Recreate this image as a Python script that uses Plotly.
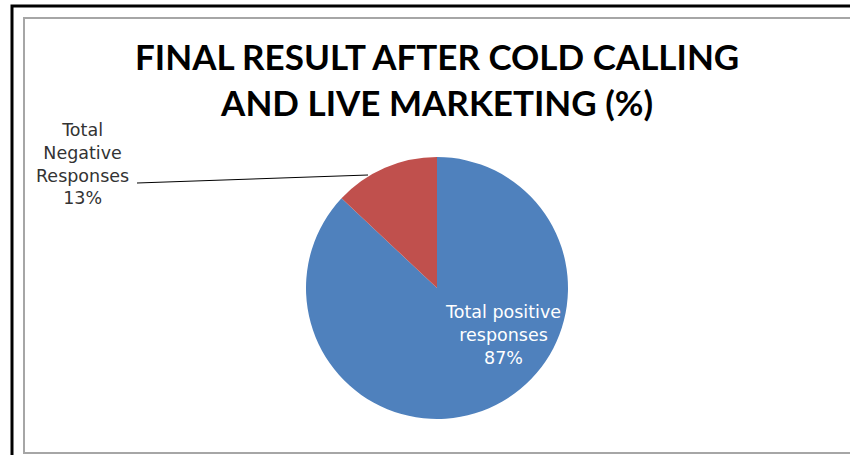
import plotly.graph_objects as go

labels = ["Total positive responses", "Total Negative Responses"]
values = [87, 13]
colors = ["#4F81BD", "#C0504D"]
title_text = "FINAL RESULT AFTER COLD CALLING<br>AND LIVE MARKETING (%)"

W, H = 850, 455

def px(x):
    return x / W

def py(y):
    return 1 - y / H

cx, cy, r = 437, 288, 131

fig = go.Figure(go.Pie(
    labels=labels, values=values, sort=False, direction="clockwise",
    rotation=0, marker=dict(colors=colors, line=dict(width=0)),
    textinfo="none", hoverinfo="label+percent", showlegend=False,
    domain=dict(x=[px(cx - r), px(cx + r)], y=[py(cy + r), py(cy - r)]),
))

fig.update_layout(
    width=W, height=H, margin=dict(l=0, r=0, t=0, b=0),
    paper_bgcolor="white", plot_bgcolor="white",
    font=dict(family="Lato", color="#333333"),
)

# Borders
fig.add_shape(type="rect", xref="paper", yref="paper",
              x0=px(12), x1=px(900), y0=py(520), y1=py(6),
              line=dict(color="black", width=3), layer="below")
fig.add_shape(type="rect", xref="paper", yref="paper",
              x0=px(24), x1=px(900), y0=py(453), y1=py(18),
              line=dict(color="#A6A6A6", width=2), layer="below")

# Title
fig.add_annotation(text="<b>" + title_text + "</b>", xref="paper", yref="paper",
                   x=px(437), y=py(79), showarrow=False,
                   font=dict(family="Lato", size=35, color="black"),
                   xanchor="center", yanchor="middle")

# Labels
neg = f"Total<br>Negative<br>Responses<br>{values[1]}%"
pos = f"Total positive<br>responses<br>{values[0]}%"
fig.add_annotation(text=neg, xref="paper", yref="paper", x=px(82), y=py(164),
                   showarrow=False, font=dict(family="DejaVu Sans", size=17.5, color="#333333"),
                   align="center", xanchor="center", yanchor="middle")
fig.add_annotation(text=pos, xref="paper", yref="paper", x=px(503), y=py(335),
                   showarrow=False, font=dict(family="DejaVu Sans", size=17.5, color="white"),
                   align="center", xanchor="center", yanchor="middle")

# Leader line
fig.add_shape(type="line", xref="paper", yref="paper",
              x0=px(137), y0=py(183), x1=px(368), y1=py(175),
              line=dict(color="black", width=1))

fig.write_html("out.html")
